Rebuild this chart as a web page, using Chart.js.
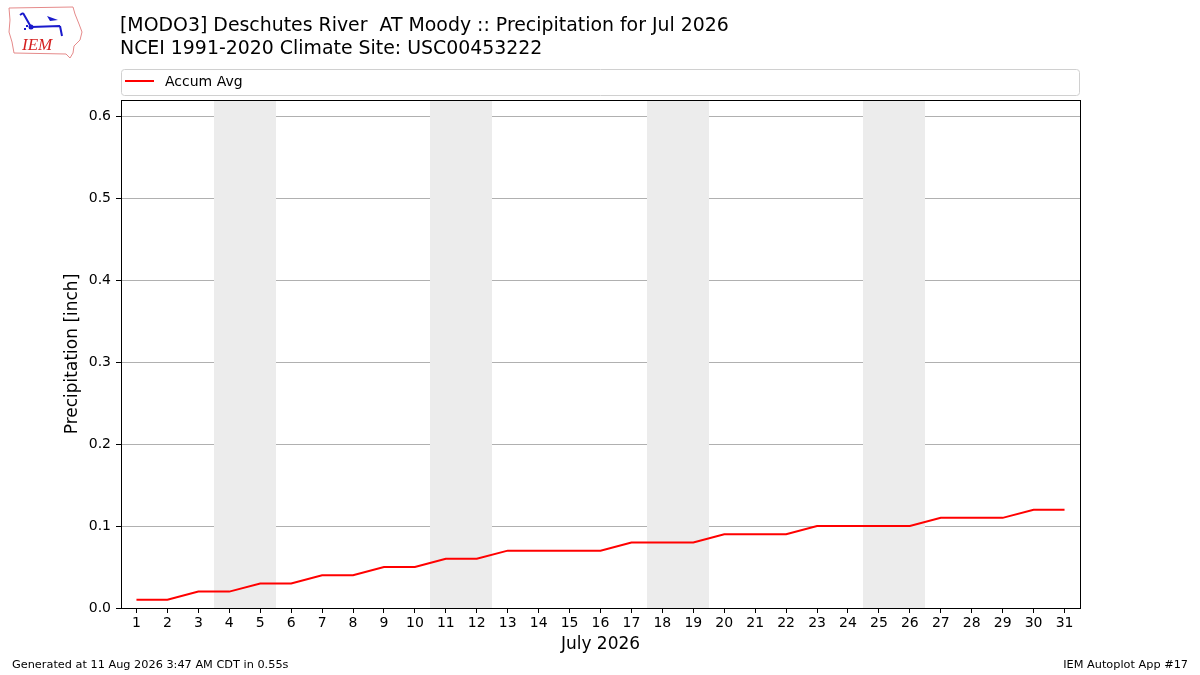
<!DOCTYPE html>
<html>
<head>
<meta charset="utf-8">
<script src="https://cdn.jsdelivr.net/npm/chart.js@4"></script>
<style>
  html, body { margin: 0; padding: 0; background: #fff; }
  canvas { display: block; }
</style>
</head>
<body>
<canvas id="chart" width="1200" height="675" style="width:1200px;height:675px"></canvas>
<script>
// July 2026 days and accumulated average precipitation (inch)
const days = [1, 2, 3, 4, 5, 6, 7, 8, 9, 10, 11, 12, 13, 14, 15, 16, 17, 18, 19, 20, 21, 22, 23, 24, 25, 26, 27, 28, 29, 30, 31];
const accumAvg = [0.01, 0.01, 0.02, 0.02, 0.03, 0.03, 0.04, 0.04, 0.05, 0.05, 0.06, 0.06, 0.07, 0.07, 0.07, 0.07,
                  0.08, 0.08, 0.08, 0.09, 0.09, 0.09, 0.10, 0.10, 0.10, 0.10, 0.11, 0.11, 0.11, 0.12, 0.12];
const weekendDays = [4, 5, 11, 12, 18, 19, 25, 26];
const yTicks = [0, 0.1, 0.2, 0.3, 0.4, 0.5, 0.6];

const FONT = "DejaVu Sans, sans-serif";

const decorations = {
    id: "decorations",
    beforeDatasetsDraw(chart) {
        const ctx = chart.ctx;
        const x = chart.scales.x;
        const area = chart.chartArea;
        ctx.save();
        ctx.fillStyle = "#ececec";
        weekendDays.forEach(d => {
            const x0 = Math.round(x.getPixelForValue(d - 0.5));
            const x1 = Math.round(x.getPixelForValue(d + 0.5));
            ctx.fillRect(x0, area.top, x1 - x0, area.bottom - area.top);
        });
        ctx.restore();
    },
    afterDraw(chart) {
        const ctx = chart.ctx;
        const area = chart.chartArea;
        ctx.save();

        // frame
        ctx.strokeStyle = "#000";
        ctx.lineWidth = 1;
        ctx.strokeRect(area.left + 0.5, area.top + 0.5, area.right - area.left, area.bottom - area.top);

        // titles
        ctx.fillStyle = "#000";
        ctx.textAlign = "left";
        ctx.textBaseline = "alphabetic";
        ctx.font = "18.9px " + FONT;
        ctx.fillText("[MODO3] Deschutes River  AT Moody :: Precipitation for Jul 2026", 120, 31);
        ctx.fillText("NCEI 1991-2020 Climate Site: USC00453222", 120, 54);

        // legend box
        ctx.strokeStyle = "#d0d0d0";
        ctx.fillStyle = "#fff";
        ctx.beginPath();
        ctx.roundRect(121.5, 69.5, 958, 26, 3);
        ctx.fill();
        ctx.stroke();
        ctx.strokeStyle = "red";
        ctx.lineWidth = 2;
        ctx.beginPath();
        ctx.moveTo(125, 81);
        ctx.lineTo(154, 81);
        ctx.stroke();
        ctx.fillStyle = "#000";
        ctx.font = "14px " + FONT;
        ctx.textBaseline = "middle";
        ctx.fillText("Accum Avg", 165, 82);

        // axis titles
        ctx.font = "17px " + FONT;
        ctx.textAlign = "center";
        ctx.fillText("July 2026", (area.left + area.right) / 2, 645);
        ctx.save();
        ctx.translate(73, (area.top + area.bottom) / 2);
        ctx.rotate(-Math.PI / 2);
        ctx.fillText("Precipitation [inch]", 0, 0);
        ctx.restore();

        // footer
        ctx.font = "11.3px " + FONT;
        ctx.textAlign = "left";
        ctx.fillText("Generated at 11 Aug 2026 3:47 AM CDT in 0.55s", 12, 665);
        ctx.textAlign = "right";
        ctx.fillText("IEM Autoplot App #17", 1188, 665);

        // logo
        ctx.strokeStyle = "#e58a8a";
        ctx.lineWidth = 1;
        ctx.beginPath();
        ctx.moveTo(9, 8);
        ctx.lineTo(73, 7);
        ctx.lineTo(75, 14);
        ctx.lineTo(79, 24);
        ctx.lineTo(82, 32);
        ctx.lineTo(80, 40);
        ctx.lineTo(74, 46);
        ctx.lineTo(73, 53);
        ctx.lineTo(70, 58);
        ctx.lineTo(66, 54);
        ctx.lineTo(14, 53);
        ctx.lineTo(12, 42);
        ctx.lineTo(9, 32);
        ctx.lineTo(10, 20);
        ctx.closePath();
        ctx.stroke();
        ctx.strokeStyle = "#1a1acc";
        ctx.fillStyle = "#1a1acc";
        ctx.lineWidth = 2;
        ctx.beginPath();
        ctx.moveTo(31, 27);
        ctx.lineTo(60, 26);
        ctx.moveTo(31, 27);
        ctx.lineTo(23, 13);
        ctx.moveTo(23, 13);
        ctx.lineTo(20, 15);
        ctx.moveTo(60, 26);
        ctx.lineTo(62, 36);
        ctx.stroke();
        ctx.beginPath();
        ctx.arc(31, 27, 2.5, 0, Math.PI * 2);
        ctx.fill();
        ctx.beginPath();
        ctx.moveTo(47, 16);
        ctx.lineTo(58, 20);
        ctx.lineTo(50, 21);
        ctx.closePath();
        ctx.fill();
        ctx.fillRect(24, 28, 2, 2);
        ctx.fillRect(26, 25, 2, 2);
        ctx.fillStyle = "#d42020";
        ctx.font = "italic 17px 'Liberation Serif', serif";
        ctx.textAlign = "left";
        ctx.textBaseline = "alphabetic";
        ctx.fillText("IEM", 22, 50);

        ctx.restore();
    }
};

new Chart(document.getElementById("chart"), {
    type: "line",
    data: {
        labels: days,
        datasets: [{
            label: "Accum Avg",
            data: days.map((d, i) => ({ x: d, y: accumAvg[i] })),
            borderColor: "red",
            borderWidth: 2,
            pointRadius: 0,
            tension: 0,
            fill: false
        }]
    },
    options: {
        responsive: false,
        animation: false,
        devicePixelRatio: 1,
        layout: { padding: { left: 0, top: 100, right: 120, bottom: 0 } },
        plugins: {
            legend: { display: false },
            title: { display: false },
            tooltip: { enabled: false }
        },
        scales: {
            x: {
                type: "linear",
                min: 0.5,
                max: 31.5,
                afterBuildTicks: s => { s.ticks = days.map(d => ({ value: d })); },
                afterFit: s => { s.height = 67; },
                grid: { drawOnChartArea: false, drawTicks: true, tickLength: 5, tickColor: "#000" },
                border: { display: true, color: "#000" },
                ticks: {
                    color: "#000",
                    font: { family: FONT, size: 14 },
                    padding: 2,
                    maxRotation: 0,
                    autoSkip: false,
                    callback: v => String(v)
                }
            },
            y: {
                min: 0,
                max: 0.62,
                afterBuildTicks: s => { s.ticks = yTicks.map(v => ({ value: v })); },
                afterFit: s => { s.width = 121; },
                grid: { color: "#b0b0b0", drawTicks: true, tickLength: 5, tickColor: "#000" },
                border: { display: true, color: "#000" },
                ticks: {
                    color: "#000",
                    font: { family: FONT, size: 14 },
                    padding: 5,
                    callback: v => v.toFixed(1)
                }
            }
        }
    },
    plugins: [decorations]
});
</script>
</body>
</html>
